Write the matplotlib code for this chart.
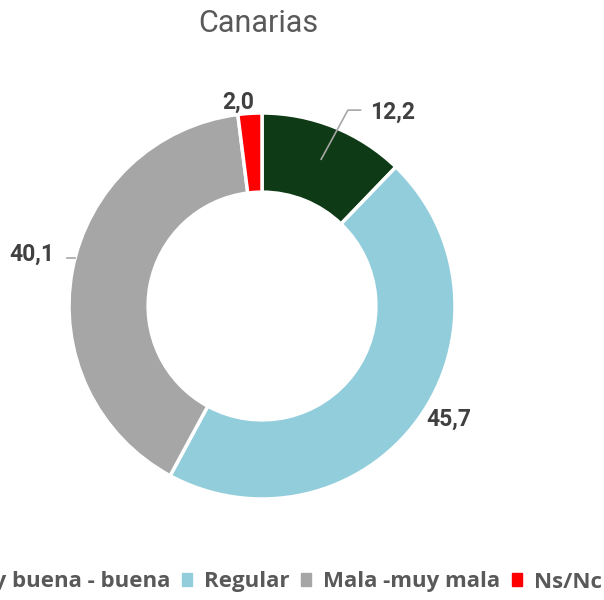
import numpy as np
import matplotlib.pyplot as plt

# ==========================
# datos
# ==========================
categories = ["Muy buena - buena", "Regular", "Mala -muy mala", "Ns/Nc"]
values = [12.2, 45.7, 40.1, 2.0]
labels = ["12,2", "45,7", "40,1", "2,0"]
colors = ["#0e3a16", "#92cddc", "#a6a6a6", "#ff0000"]

plt.rcParams["font.family"] = ["Roboto", "DejaVu Sans"]

# ==========================
# plot
# ==========================
fig = plt.figure(figsize=(6.04, 6.00), dpi=100)
ax = fig.add_axes([-0.0455, 0.0075, 0.9586, 0.965])

wedges, _ = ax.pie(values, colors=colors, startangle=90, counterclock=False,
                   radius=1.0, wedgeprops=dict(width=0.41, edgecolor="white", linewidth=2.5))
ax.set_xlim(-1.5, 1.5)
ax.set_ylim(-1.5, 1.5)
ax.axis("off")

# posiciones de etiquetas (radio, desplazamiento angular)
label_r = [1.21, 1.13, 1.22, 1.06]
label_da = [-12, 5, -2, 3]
txt = dict(fontsize=16.5, fontweight="bold", color="#404040", ha="center", va="center")

for w, lab, r, da in zip(wedges, labels, label_r, label_da):
    mid = np.deg2rad((w.theta1 + w.theta2) / 2)
    ang = mid + np.deg2rad(da)
    ax.text(r * np.cos(ang), r * np.sin(ang), lab, **txt)

# lineas guia
m0 = np.deg2rad((wedges[0].theta1 + wedges[0].theta2) / 2)
p0 = (0.82 * np.cos(m0), 0.82 * np.sin(m0))
ax.plot([p0[0], 0.445, 0.51], [p0[1], 1.015, 1.015], color="#a6a6a6", lw=1.2)
ax.plot([-1.01, -0.97], [0.25, 0.25], color="#a6a6a6", lw=1.2)

fig.text(0.427, 0.961, "Canarias", ha="center", va="center", fontsize=22, color="#595959")

handles = [plt.Rectangle((0, 0), 1, 1, color=c) for c in colors]
leg = fig.legend(handles, categories, loc="center left", bbox_to_anchor=(-0.14, 0.03),
                 ncol=4, frameon=False, handlelength=0.45, handleheight=0.5,
                 handletextpad=0.55, columnspacing=0.52,
                 prop=dict(family=["Open Sans", "DejaVu Sans"], size=16, weight="bold"))
for t in leg.get_texts():
    t.set_color("#595959")

plt.savefig("out.png", dpi=100)
plt.close()
